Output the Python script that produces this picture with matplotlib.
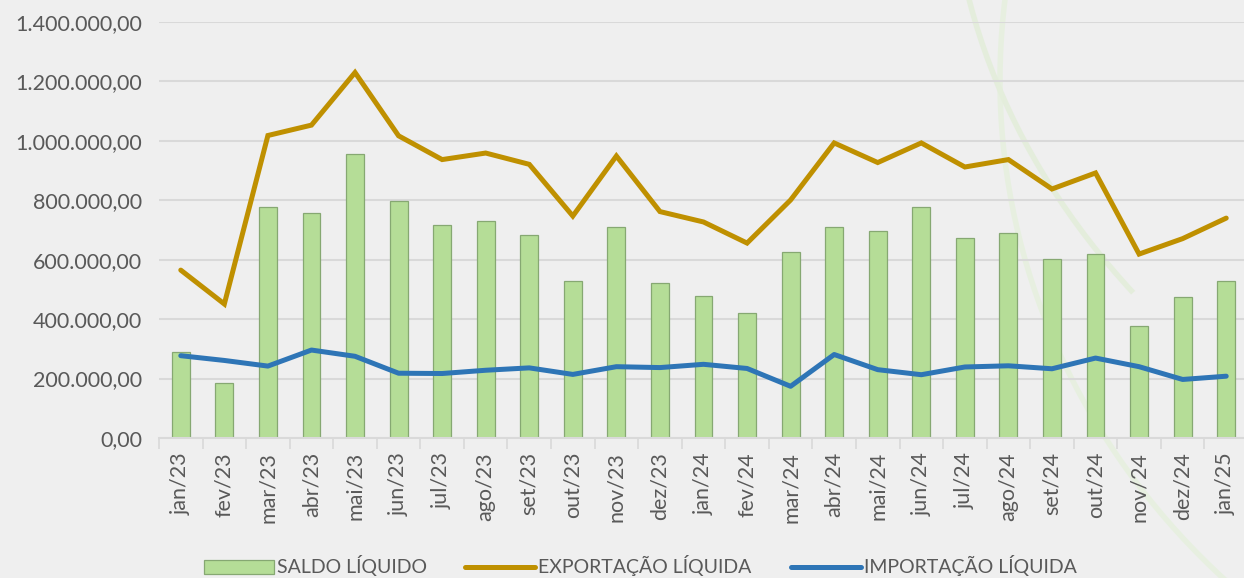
import numpy as np
import matplotlib.pyplot as plt
from matplotlib.patches import Arc
from matplotlib.ticker import FuncFormatter, FixedLocator

meses = ["jan/23", "fev/23", "mar/23", "abr/23", "mai/23", "jun/23", "jul/23",
         "ago/23", "set/23", "out/23", "nov/23", "dez/23", "jan/24", "fev/24",
         "mar/24", "abr/24", "mai/24", "jun/24", "jul/24", "ago/24", "set/24",
         "out/24", "nov/24", "dez/24", "jan/25"]

saldo = [288000, 186000, 776000, 758000, 955000, 796000, 718000, 731000, 684000,
         527000, 709000, 522000, 477000, 419000, 627000, 711000, 695000, 778000,
         673000, 690000, 602000, 620000, 376000, 473000, 527000]

exportacao = [565000, 451000, 1018000, 1053000, 1230000, 1017000, 937000, 959000,
              921000, 747000, 949000, 762000, 727000, 656000, 801000, 993000,
              927000, 993000, 912000, 937000, 838000, 892000, 619000, 671000, 740000]

importacao = [277000, 261000, 242000, 296000, 275000, 218000, 217000, 228000,
              236000, 214000, 240000, 237000, 248000, 234000, 174000, 281000,
              230000, 213000, 239000, 243000, 233000, 269000, 240000, 197000, 208000]

cinza = "#595959"
plt.rcParams['font.family'] = ['Lato', 'DejaVu Sans']

fig = plt.figure(figsize=(12.44, 5.78), dpi=100)
fig.patch.set_facecolor("#efefef")

# faint decorative arcs in the background
bg = fig.add_axes([0, 0, 1, 1], zorder=0)
bg.set_xlim(0, 1244)
bg.set_ylim(578, 0)
bg.axis("off")
bg.add_patch(Arc((1900, -150), 1900, 1500, theta1=150, theta2=215,
                 color="#e0edd5", lw=4, alpha=0.7))
bg.add_patch(Arc((1750, 80), 1500, 1400, theta1=135, theta2=215,
                 color="#e4efdb", lw=4, alpha=0.7))

ax = fig.add_axes([159 / 1244, 1 - 438 / 578, 1089 / 1244, (438 - 22) / 578], zorder=1)
ax.patch.set_alpha(0)

x = np.arange(len(meses))
ax.bar(x, saldo, width=0.41, color="#b5dd97", edgecolor="#86a872", linewidth=0.9,
       label="SALDO LÍQUIDO", zorder=2)
ax.plot(x, exportacao, color="#bf9000", lw=3.6, solid_capstyle="round",
        solid_joinstyle="miter", label="EXPORTAÇÃO LÍQUIDA", zorder=3)
ax.plot(x, importacao, color="#2e75b6", lw=3.6, solid_capstyle="round",
        label="IMPORTAÇÃO LÍQUIDA", zorder=3)

ax.set_xlim(-0.5, len(meses) - 0.5)
ax.set_ylim(0, 1400000)
ax.set_yticks(np.arange(0, 1400001, 200000))
ax.yaxis.set_major_formatter(FuncFormatter(
    lambda v, p: f"{v:,.2f}".replace(",", "X").replace(".", ",").replace("X", ".")))
ax.grid(axis="y", color="#d9d9d9", lw=1.5, zorder=0)
ax.set_axisbelow(True)

ax.set_xticks(x)
ax.set_xticklabels(meses, rotation=90)
ax.xaxis.set_minor_locator(FixedLocator(np.arange(-0.5, len(meses), 1)))
ax.tick_params(axis="x", which="major", length=0, pad=10, labelsize=15.5, colors=cinza)
ax.tick_params(axis="x", which="minor", length=8, width=1.2, color="#d9d9d9")
ax.tick_params(axis="y", length=0, pad=12, labelsize=15.5, colors=cinza)

for s in ["top", "right", "left"]:
    ax.spines[s].set_visible(False)
ax.spines["bottom"].set_color("#d9d9d9")
ax.spines["bottom"].set_linewidth(1.5)

h, l = ax.get_legend_handles_labels()
ordem = [2, 0, 1]
leg = fig.legend([h[i] for i in ordem], [l[i] for i in ordem], loc="center",
                 bbox_to_anchor=(640 / 1244, 1 - 566 / 578), ncol=3,
                 frameon=False, fontsize=14, handlelength=3.6, handletextpad=0.15,
                 columnspacing=2.0)
for t in leg.get_texts():
    t.set_color(cinza)

fig.savefig("out.png", dpi=100, facecolor=fig.get_facecolor())
